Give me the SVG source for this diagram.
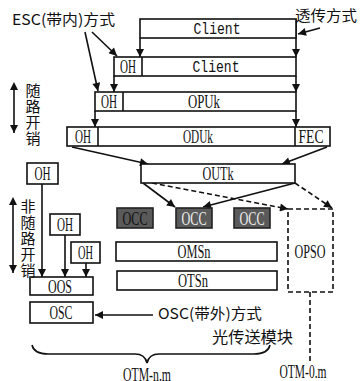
<svg xmlns="http://www.w3.org/2000/svg" width="361" height="381" viewBox="0 0 361 381">
<style>
.b{fill:#fff;stroke:#111;stroke-width:1.6}
.g{fill:#5a5a5a;stroke:#222;stroke-width:1.6}
.ln{stroke:#111;stroke-width:1.6;fill:none}
.ds{stroke:#111;stroke-width:1.6;fill:none;stroke-dasharray:5,3}
.t{font-family:"Liberation Serif",serif;font-size:19px;fill:#111;text-anchor:middle}
.m{font-family:"Liberation Mono",monospace;font-size:16px;fill:#111;text-anchor:middle}
.c{font-family:"Noto Sans CJK SC","Noto Sans CJK JP",sans-serif;font-size:15px;fill:#111}
.cv{font-family:"Noto Sans CJK SC","Noto Sans CJK JP",sans-serif;font-size:15px;fill:#111;writing-mode:vertical-rl;letter-spacing:1px}
</style>
<defs>
<marker id="a" viewBox="0 0 10 10" refX="10" refY="5" markerWidth="6.5" markerHeight="5" orient="auto" markerUnits="strokeWidth">
<path d="M0,0L10,5L0,10z" fill="#111"/>
</marker>
<marker id="s" viewBox="0 0 10 10" refX="0" refY="5" markerWidth="6.5" markerHeight="5" orient="auto-start-reverse" markerUnits="strokeWidth">
<path d="M0,0L10,5L0,10z" fill="#111"/>
</marker>
</defs>

<g id="connectors">
<line class="ln" x1="140" y1="38" x2="140" y2="57" marker-end="url(#a)"/>
<line class="ln" x1="296" y1="19" x2="296" y2="57" marker-end="url(#a)"/>
<line class="ln" x1="296" y1="76" x2="296" y2="92" marker-end="url(#a)"/>
<line class="ln" x1="296" y1="111" x2="296" y2="127" marker-end="url(#a)"/>
<line class="ln" x1="114" y1="76" x2="114" y2="92" marker-end="url(#a)"/>
<line class="ln" x1="95" y1="111" x2="95" y2="127" marker-end="url(#a)"/>
<line class="ln" x1="85" y1="32" x2="98" y2="91" marker-end="url(#a)"/>
<line class="ln" x1="92" y1="32" x2="117" y2="56" marker-end="url(#a)"/>
<line class="ln" x1="320" y1="28" x2="298" y2="34" marker-end="url(#a)"/>
<line class="ln" x1="72" y1="147" x2="148" y2="164" marker-end="url(#a)"/>
<line class="ln" x1="327" y1="147" x2="282" y2="164" marker-end="url(#a)"/>
<line class="ln" x1="143" y1="183" x2="175" y2="207" marker-end="url(#a)"/>
<line class="ln" x1="295" y1="183" x2="203" y2="207" marker-end="url(#a)"/>
<line class="ds" x1="152" y1="183" x2="288" y2="209" marker-end="url(#a)"/>
<line class="ds" x1="295" y1="183" x2="332" y2="208" marker-end="url(#a)"/>
<line class="ds" x1="310" y1="292" x2="310" y2="362"/>
<line class="ln" x1="42" y1="184" x2="42" y2="277" marker-end="url(#a)"/>
<line class="ln" x1="65" y1="235" x2="65" y2="277" marker-end="url(#a)"/>
<line class="ln" x1="86" y1="263" x2="86" y2="277" marker-end="url(#a)"/>
<line class="ln" x1="153" y1="315" x2="95" y2="315" marker-end="url(#a)"/>
<line class="ln" x1="14" y1="90" x2="14" y2="133" marker-start="url(#s)" marker-end="url(#a)"/>
<line class="ln" x1="13" y1="205" x2="13" y2="273" marker-start="url(#s)" marker-end="url(#a)"/>
<path class="ln" d="M32,345Q34,354 48,354L135,354Q145,354 147,363Q149,354 159,354L254,354Q268,354 270,345"/>
</g>

<g id="client1">
<rect class="b" x="140" y="19" width="156" height="19"/>
<text class="m" x="217" y="34" textLength="47" lengthAdjust="spacingAndGlyphs">Client</text>
</g>
<g id="client2">
<rect class="b" x="114" y="57" width="182" height="19"/>
<line class="ln" x1="142" y1="57" x2="142" y2="76"/>
<text class="t" x="128" y="73" textLength="16" lengthAdjust="spacingAndGlyphs">OH</text>
<text class="m" x="216" y="72" textLength="47" lengthAdjust="spacingAndGlyphs">Client</text>
</g>
<g id="opuk">
<rect class="b" x="95" y="92" width="201" height="19"/>
<line class="ln" x1="123" y1="92" x2="123" y2="111"/>
<text class="t" x="109" y="108" textLength="16" lengthAdjust="spacingAndGlyphs">OH</text>
<text class="t" x="204" y="108" textLength="32" lengthAdjust="spacingAndGlyphs">OPUk</text>
</g>
<g id="oduk">
<rect class="b" x="67" y="127" width="263" height="19"/>
<line class="ln" x1="98" y1="127" x2="98" y2="146"/>
<line class="ln" x1="295" y1="127" x2="295" y2="146"/>
<text class="t" x="83" y="143" textLength="16" lengthAdjust="spacingAndGlyphs">OH</text>
<text class="t" x="198" y="143" textLength="30" lengthAdjust="spacingAndGlyphs">ODUk</text>
<text class="t" x="311" y="143" textLength="25" lengthAdjust="spacingAndGlyphs">FEC</text>
</g>
<g id="outk">
<rect class="b" x="141" y="164" width="154" height="19"/>
<text class="t" x="218" y="180" textLength="31" lengthAdjust="spacingAndGlyphs">OUTk</text>
</g>
<g id="occ1">
<rect class="g" x="117" y="208" width="36" height="20"/>
<text class="t" x="135" y="224.5" textLength="25" lengthAdjust="spacingAndGlyphs" style="fill:#111">OCC</text>
</g>
<g id="occ2">
<rect class="g" x="176" y="208" width="36" height="20"/>
<text class="t" x="194" y="224.5" textLength="25" lengthAdjust="spacingAndGlyphs" style="fill:#eee">OCC</text>
</g>
<g id="occ3">
<rect class="g" x="234" y="208" width="36" height="20"/>
<text class="t" x="252" y="224.5" textLength="25" lengthAdjust="spacingAndGlyphs" style="fill:#eee">OCC</text>
</g>
<g id="opso">
<rect class="ds" x="288" y="209" width="45" height="83"/>
<text class="t" x="310" y="258" textLength="31" lengthAdjust="spacingAndGlyphs">OPSO</text>
</g>
<g id="omsn">
<rect class="b" x="116" y="242" width="161" height="19"/>
<text class="t" x="194" y="258" textLength="33" lengthAdjust="spacingAndGlyphs">OMSn</text>
</g>
<g id="otsn">
<rect class="b" x="117" y="271" width="160" height="19"/>
<text class="t" x="193" y="287" textLength="30" lengthAdjust="spacingAndGlyphs">OTSn</text>
</g>
<g id="oh-a">
<rect class="b" x="27" y="163" width="31" height="21"/>
<text class="t" x="42.5" y="180" textLength="16" lengthAdjust="spacingAndGlyphs">OH</text>
</g>
<g id="oh-b">
<rect class="b" x="50" y="214" width="30" height="21"/>
<text class="t" x="65" y="231" textLength="16" lengthAdjust="spacingAndGlyphs">OH</text>
</g>
<g id="oh-c">
<rect class="b" x="71" y="242" width="29" height="21"/>
<text class="t" x="85.5" y="259" textLength="15" lengthAdjust="spacingAndGlyphs">OH</text>
</g>
<g id="oos">
<rect class="b" x="30" y="277" width="63" height="18"/>
<text class="t" x="60" y="292.5" textLength="24" lengthAdjust="spacingAndGlyphs">OOS</text>
</g>
<g id="osc">
<rect class="b" x="30" y="302" width="63" height="21"/>
<text class="t" x="61" y="319" textLength="23" lengthAdjust="spacingAndGlyphs">OSC</text>
</g>

<g id="labels">
<text class="c" x="12" y="25" textLength="103" lengthAdjust="spacingAndGlyphs">ESC(带内)方式</text>
<text class="c" x="295" y="21" textLength="62" lengthAdjust="spacingAndGlyphs">透传方式</text>
<text class="c" x="158" y="319" textLength="104" lengthAdjust="spacingAndGlyphs">OSC(带外)方式</text>
<text class="c" x="212" y="343" style="font-size:16px" textLength="81" lengthAdjust="spacingAndGlyphs">光传送模块</text>
<text class="cv" x="33" y="83">随路开销</text>
<text class="cv" x="28" y="199">非随路开销</text>
<text class="t" x="147" y="381" textLength="48" lengthAdjust="spacingAndGlyphs">OTM-n.m</text>
<text class="t" x="303" y="378" textLength="47" lengthAdjust="spacingAndGlyphs">OTM-0.m</text>
</g>
</svg>
